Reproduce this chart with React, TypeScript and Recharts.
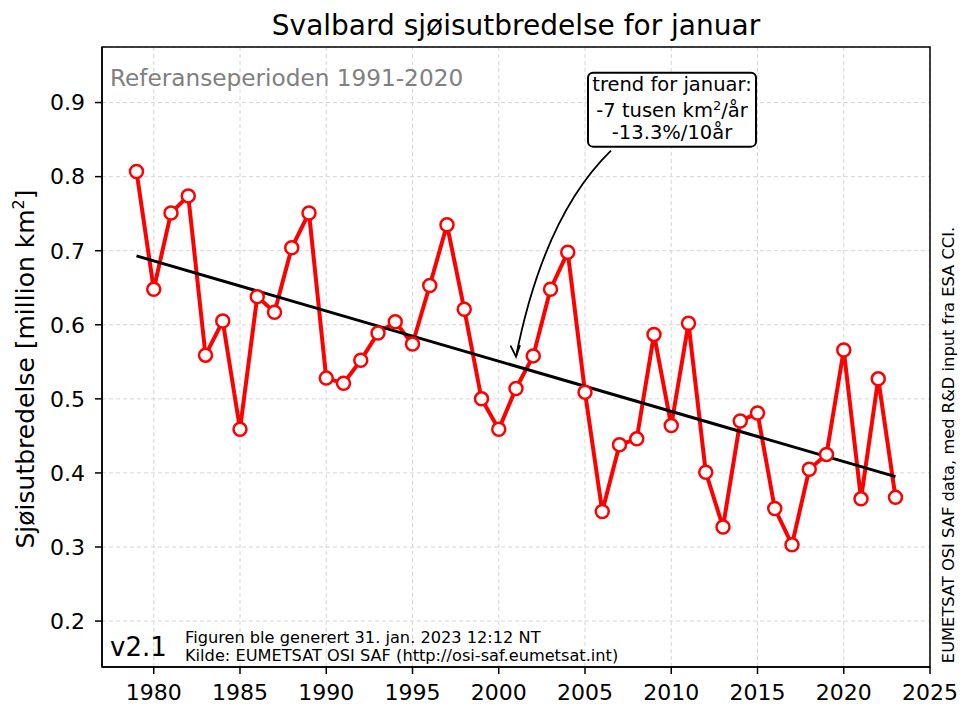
import { CartesianGrid, Line, LineChart, ReferenceArea, ReferenceDot, XAxis, YAxis } from 'recharts';

const FONT = 'DejaVu Sans';

const years = [
  1979, 1980, 1981, 1982, 1983, 1984, 1985, 1986, 1987, 1988,
  1989, 1990, 1991, 1992, 1993, 1994, 1995, 1996, 1997, 1998,
  1999, 2000, 2001, 2002, 2003, 2004, 2005, 2006, 2007, 2008,
  2009, 2010, 2011, 2012, 2013, 2014, 2015, 2016, 2017, 2018,
  2019, 2020, 2021, 2022, 2023,
];
const extent = [
  0.807, 0.648, 0.751, 0.774, 0.559, 0.605, 0.459, 0.638, 0.617, 0.704,
  0.751, 0.528, 0.521, 0.552, 0.589, 0.604, 0.574, 0.653, 0.735, 0.621,
  0.500, 0.459, 0.514, 0.558, 0.648, 0.698, 0.509, 0.348, 0.438, 0.446,
  0.587, 0.464, 0.602, 0.401, 0.327, 0.470, 0.481, 0.352, 0.303, 0.405,
  0.425, 0.566, 0.365, 0.527, 0.367,
];
// endpoints of the fitted trend line
const trendYears = [1979, 2023];
const trendValues = [0.693, 0.395];

const xTicks = [1980, 1985, 1990, 1995, 2000, 2005, 2010, 2015, 2020, 2025];
const yTicks = [0.2, 0.3, 0.4, 0.5, 0.6, 0.7, 0.8, 0.9];

const data = years.map((year, i) => {
  const t = trendYears.indexOf(year);
  return { year, extent: extent[i], trend: t >= 0 ? trendValues[t] : null };
});

function TrendNote({ cx, cy }: any) {
  const bx = cx + 72;
  const by = cy - 284;
  const mid = cx + 156;
  return (
    <g>
      <path d={`M${cx + 95},${cy - 206} Q${cx + 28},${cy - 141} ${cx},${cy}`} fill="none" stroke="#000" strokeWidth={1.8} />
      <path d={`M${cx - 5.5},${cy - 11} L${cx},${cy} L${cx + 4},${cy - 11.5}`} fill="none" stroke="#000" strokeWidth={1.8} />
      <rect x={bx} y={by} width={168} height={74} rx={5} fill="#fff" stroke="#000" strokeWidth={2} />
      <g fontFamily={FONT} fontSize={19.5} fill="#000" textAnchor="middle">
        <text x={mid} y={cy - 266}>trend for januar:</text>
        <text x={mid} y={cy - 240}>
          -7 tusen km<tspan dy={-7} fontSize={13}>2</tspan><tspan dy={7}>/år</tspan>
        </text>
        <text x={mid} y={cy - 218}>-13.3%/10år</text>
      </g>
    </g>
  );
}

function XTick({ x, y, payload }: any) {
  return (
    <text x={x} y={y} dy={15.6} textAnchor="middle" fontSize={22} fontFamily={FONT} fill="#000">
      {payload.value}
    </text>
  );
}

function YTick({ x, y, payload }: any) {
  return (
    <text x={x} y={y} dy={7.8} textAnchor="end" fontSize={22} fontFamily={FONT} fill="#000">
      {Number(payload.value).toFixed(1)}
    </text>
  );
}

export default function App() {
  return (
    <div style={{ position: 'absolute', left: 0, top: 0, width: 960, height: 704, background: '#fff', fontFamily: FONT }}>
      <LineChart width={960} height={704} data={data} margin={{ top: 47, right: 30, bottom: 7, left: 42 }}>
        <CartesianGrid strokeDasharray="4 3" stroke="#d6d6d6" />
        <XAxis
          dataKey="year"
          type="number"
          domain={[1977, 2025]}
          ticks={xTicks}
          allowDataOverflow
          height={30}
          tickSize={7}
          tickMargin={10}
          stroke="#000"
          strokeWidth={1.5}
          tick={<XTick />}
        />
        <YAxis
          type="number"
          domain={[0.138, 0.975]}
          ticks={yTicks}
          allowDataOverflow
          width={60}
          tickSize={7}
          tickMargin={10}
          stroke="#000"
          strokeWidth={1.5}
          tick={<YTick />}
        />
        <ReferenceArea x1={1977} x2={2025} y1={0.138} y2={0.975} fill="none" stroke="#000" strokeWidth={1.5} ifOverflow="visible" />
        <Line
          dataKey="extent"
          type="linear"
          stroke="#ff0000"
          strokeWidth={4}
          dot={{ r: 6.5, fill: '#fff', stroke: '#ff0000', strokeWidth: 2.5 }}
          isAnimationActive={false}
        />
        <Line
          dataKey="trend"
          type="linear"
          stroke="#000"
          strokeWidth={3}
          dot={false}
          connectNulls
          isAnimationActive={false}
        />
        <ReferenceDot x={2001} y={0.557} ifOverflow="visible" shape={(p: any) => <TrendNote {...p} />} />
      </LineChart>
      <svg width={960} height={704} style={{ position: 'absolute', left: 0, top: 0, pointerEvents: 'none' }} fontFamily={FONT}>
        <text x={516} y={35} fontSize={28} textAnchor="middle" fill="#000">Svalbard sjøisutbredelse for januar</text>
        <text x={110} y={86} fontSize={23.2} fill="#808080">Referanseperioden 1991-2020</text>
        <text transform="translate(34,369) rotate(-90)" fontSize={25} textAnchor="middle" fill="#000">
          Sjøisutbredelse [million km<tspan dy={-10} fontSize={16}>2</tspan><tspan dy={10}>]</tspan>
        </text>
        <text x={110} y={656} fontSize={26} fill="#000">v2.1</text>
        <text x={185} y={643} fontSize={16.2} fill="#000">Figuren ble generert 31. jan. 2023 12:12 NT</text>
        <text x={185} y={661} fontSize={16.2} fill="#000">Kilde: EUMETSAT OSI SAF (http://osi-saf.eumetsat.int)</text>
        <text transform="translate(954,445) rotate(-90)" fontSize={16.3} textAnchor="middle" fill="#000">
          EUMETSAT OSI SAF data, med R&amp;D input fra ESA CCI.
        </text>
      </svg>
    </div>
  );
}
